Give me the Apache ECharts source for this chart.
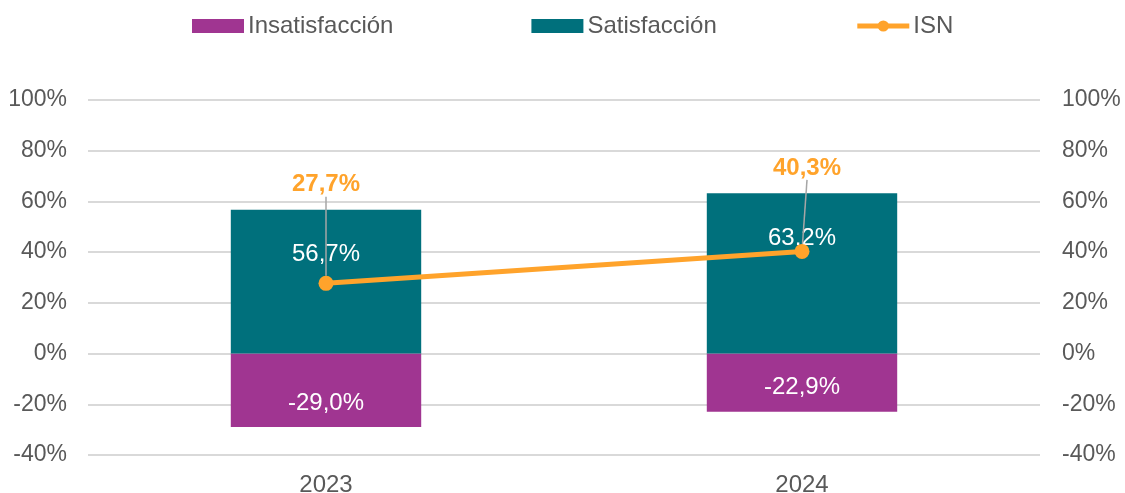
<!DOCTYPE html>
<html>
<head>
<meta charset="utf-8">
<script src="https://cdn.jsdelivr.net/npm/echarts@6/dist/echarts.min.js"></script>
<style>
  html, body { margin: 0; padding: 0; background: #fff; }
  #main { width: 1125px; height: 493px; }
</style>
</head>
<body>
<!-- contenedor del gráfico -->
<div id="main"></div>
<script>
var years = ["2023", "2024"];
var insatisfaccion = [-29.0, -22.9];
var satisfaccion = [56.7, 63.2];
var isn = [27.7, 40.3];
var isnLabelDy = [-74, -59]; // desplazamiento de las etiquetas ISN

var fmt = function (v) { return v.toFixed(1).replace(".", ",") + "%"; };
var font = "Liberation Sans, Arial, sans-serif";

var myChart = echarts.init(document.getElementById("main"));
myChart.setOption({
  textStyle: { fontFamily: font },
  legend: {
    top: 9,
    left: 187,
    itemGap: 138,
    itemWidth: 52,
    itemHeight: 14,
    textStyle: { fontSize: 24, color: "#595959", fontFamily: font, padding: [0, 0, 0, -1] },
    data: [
      { name: "Insatisfacción", icon: "rect" },
      { name: "Satisfacción", icon: "rect" },
      { name: "ISN", lineStyle: { width: 5 } },
    ],
  },
  grid: { left: 88, right: 85, top: 100, bottom: 38, outerBoundsMode: "none" },
  xAxis: {
    type: "category",
    data: years,
    axisLine: { show: false },
    axisTick: { show: false },
    axisLabel: { fontSize: 24, color: "#595959", margin: 18 },
  },
  yAxis: [
    {
      type: "value",
      min: -40, max: 100, interval: 20,
      axisLabel: { fontSize: 23, color: "#595959", margin: 21, formatter: "{value}%" },
      splitLine: { lineStyle: { color: "#d9d9d9", width: 2 } },
    },
    {
      type: "value",
      min: -40, max: 100, interval: 20,
      axisLabel: { fontSize: 23, color: "#595959", margin: 22, formatter: "{value}%" },
      splitLine: { show: false },
    },
  ],
  series: [
    {
      name: "Insatisfacción",
      type: "bar",
      stack: "total",
      barWidth: "40%",
      itemStyle: { color: "#A03591" },
      label: {
        show: true, position: "insideBottom", distance: 12,
        color: "#fff", fontSize: 24,
        formatter: function (p) { return fmt(p.value); },
      },
      data: insatisfaccion,
    },
    {
      name: "Satisfacción",
      type: "bar",
      stack: "total",
      barWidth: "40%",
      itemStyle: { color: "#00707C" },
      label: {
        show: true, position: "insideTop", distance: 33,
        color: "#fff", fontSize: 24,
        formatter: function (p) { return fmt(p.value); },
      },
      data: satisfaccion,
    },
    {
      name: "ISN",
      type: "line",
      z: 5,
      symbol: "circle",
      symbolSize: 15,
      itemStyle: { color: "#FFA32B" },
      lineStyle: { color: "#FFA32B", width: 5 },
      label: {
        show: true, position: "top",
        color: "#FFA32B", fontSize: 24, fontWeight: "bold",
        formatter: function (p) { return fmt(p.value); },
      },
      labelLine: { show: true, lineStyle: { color: "#a6a6a6", width: 1.5 } },
      labelLayout: function (params) {
        return { dy: isnLabelDy[params.dataIndex], dx: params.dataIndex === 1 ? 5 : 0 };
      },
      data: isn,
    },
  ],
});
</script>
</body>
</html>
